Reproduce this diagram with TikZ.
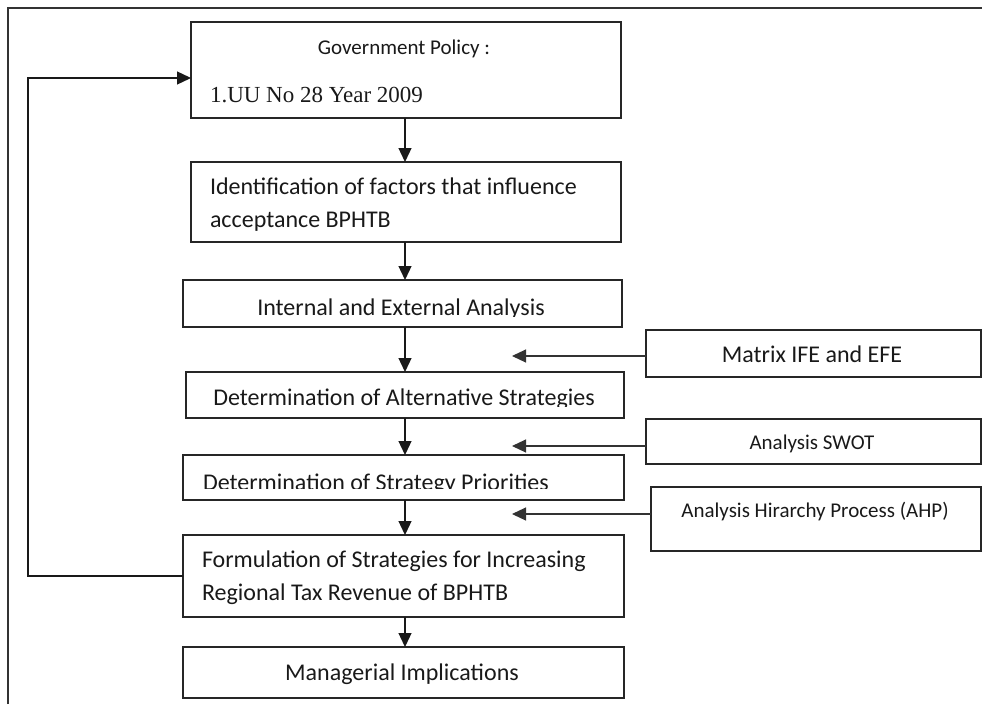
\documentclass[tikz,border=0pt]{standalone}
\usepackage{fontspec}
\setmainfont{Carlito}
\newfontfamily\tnr{Liberation Serif}
\usetikzlibrary{arrows.meta}
\begin{document}
\begin{tikzpicture}[x=1pt,y=-1pt,
  box/.style={draw=black!85, line width=1.3pt, inner sep=0pt, outer sep=0pt},
  txt/.style={inner sep=0pt, outer sep=0pt, font=\fontsize{24}{28}\selectfont, text=black!90},
  stxt/.style={txt, font=\fontsize{21}{24}\selectfont},
  serif/.style={inner sep=0pt, outer sep=0pt, font=\tnr\fontsize{23}{27}\selectfont, text=black!90},
  arr/.style={line width=1.3pt, draw=black!90, -{Triangle[length=14pt,width=13pt]}},
  sarr/.style={line width=1.1pt, draw=black!80, -{Triangle[length=14pt,width=13pt]}}]
\useasboundingbox (0,0) rectangle (982,704);
% outer frame
\draw[line width=1.3pt, draw=black!80] (8,704) -- (8,8) -- (982,8);
% main boxes
\node[box, minimum width=430pt, minimum height=96pt] (b1) at (406,70) {};
\node[box, minimum width=430pt, minimum height=80pt] (b2) at (406,202) {};
\node[box, minimum width=439pt, minimum height=47pt] (b3) at (402.5,303.5) {};
\node[box, minimum width=438pt, minimum height=46pt] (b4) at (405,395) {};
\node[box, minimum width=441pt, minimum height=45pt] (b5) at (403.5,477.5) {};
\node[box, minimum width=441pt, minimum height=82pt] (b6) at (403.5,576) {};
\node[box, minimum width=441pt, minimum height=51pt] (b7) at (403.5,672.5) {};
% side boxes
\node[box, minimum width=335pt, minimum height=47pt] (m) at (813.5,353.5) {};
\node[box, minimum width=335pt, minimum height=45pt] (s) at (813.5,441.5) {};
\node[box, minimum width=330pt, minimum height=64pt] (a) at (816,519) {};
% texts
\node[stxt, anchor=base] (t1a) at (404,54) {Government Policy :};
\node[serif, anchor=base west] (t1b) at (210,102) {1.UU No 28 Year 2009};
\node[txt, anchor=base west] (t2a) at (210,194) {Identification of factors that influence};
\node[txt, anchor=base west] (t2b) at (210,227) {acceptance BPHTB};
\begin{scope}
\clip (183,281) rectangle (622,316.5);
\node[txt, anchor=base] (t3) at (401,315) {Internal and External Analysis};
\end{scope}
\begin{scope}
\clip (186,373) rectangle (624,406.5);
\node[txt, anchor=base] (t4) at (404,405) {Determination of Alternative Strategies};
\end{scope}
\begin{scope}
\clip (183,456) rectangle (624,488.5);
\node[txt, anchor=base west] (t5) at (203,490) {Determination of Strategy Priorities};
\end{scope}
\node[txt, anchor=base west] (t6a) at (202,567) {Formulation of Strategies for Increasing};
\node[txt, anchor=base west] (t6b) at (202,600) {Regional Tax Revenue of BPHTB};
\node[txt, anchor=base] (t7) at (402,680) {Managerial Implications};
\node[txt, anchor=base] (tm) at (812,362) {Matrix IFE and EFE};
\node[stxt, anchor=base] (ts) at (812,449) {Analysis SWOT};
\node[stxt, anchor=base] (ta) at (815,517) {Analysis Hirarchy Process (AHP)};
% vertical arrows
\coordinate (ax) at (405,0);
\draw[arr] (b1.south -| ax) -- (b2.north -| ax);
\draw[arr] (b2.south -| ax) -- (b3.north -| ax);
\draw[arr] (b3.south -| ax) -- (b4.north -| ax);
\draw[arr] (b4.south -| ax) -- (b5.north -| ax);
\draw[arr] (b5.south -| ax) -- (b6.north -| ax);
\draw[arr] (b6.south -| ax) -- (b7.north -| ax);
% side arrows
\coordinate (e1) at (512,356);
\coordinate (e2) at (512,446);
\coordinate (e3) at (512,514);
\draw[sarr] (m.west |- e1) -- (e1);
\draw[sarr] (s.west |- e2) -- (e2);
\draw[sarr] (a.west |- e3) -- (e3);
% feedback
\coordinate (fb) at (28,78);
\draw[arr] (b6.west) -| (fb) -- (b1.west |- fb);
\end{tikzpicture}
\end{document}
